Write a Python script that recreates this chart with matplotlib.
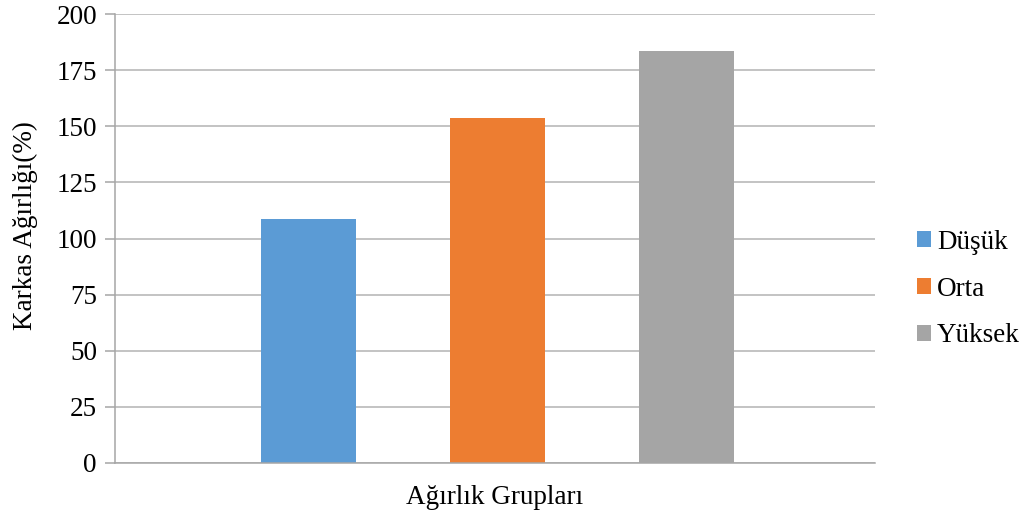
import matplotlib.pyplot as plt
from matplotlib.patches import Patch

groups = ['Düşük', 'Orta', 'Yüksek']
values = [108.7, 153.7, 183.5]
colors = ['#5B9BD5', '#ED7D31', '#A5A5A5']
yticks = [0, 25, 50, 75, 100, 125, 150, 175, 200]

plt.rcParams['font.family'] = ['Liberation Serif', 'DejaVu Serif']
fs = 19.5

fig = plt.figure(figsize=(10.27, 5.15), dpi=100)
ax = fig.add_axes([115 / 1027, 1 - 463 / 515, 760 / 1027, 449 / 515])

for i in range(len(groups)):
    ax.bar(i, values[i], width=0.503, color=colors[i], zorder=3)

ax.set_ylim(0, 200)
ax.set_xlim(-1.024, 2.997)
ax.set_yticks(yticks)
ax.set_xticks([])
ax.yaxis.grid(True, color='#B3B3B3', linewidth=1.1, zorder=0)

for side in ['top', 'right']:
    ax.spines[side].set_visible(False)
for side in ['left', 'bottom']:
    ax.spines[side].set_color('#A6A6A6')
    ax.spines[side].set_linewidth(1.1)
ax.spines['bottom'].set_zorder(4)

ax.tick_params(axis='y', direction='out', length=7, width=1.1, color='#A6A6A6',
               labelsize=fs, pad=6)

ax.set_ylabel('Karkas Ağırlığı(%)', fontsize=fs)
ax.yaxis.set_label_coords(-77 / 760, (463 - 226) / 449)
ax.set_xlabel('Ağırlık Grupları', fontsize=fs, labelpad=16)

handles = [Patch(facecolor=c, edgecolor='none') for c in colors]
fig.legend(handles, groups, loc='center left', bbox_to_anchor=(917 / 1027, 1 - 289 / 515),
           frameon=False, fontsize=fs, handlelength=0.52, handleheight=0.52,
           handletextpad=0.22, labelspacing=0.81, borderpad=0, borderaxespad=0)

fig.savefig('out.png', dpi=100)
